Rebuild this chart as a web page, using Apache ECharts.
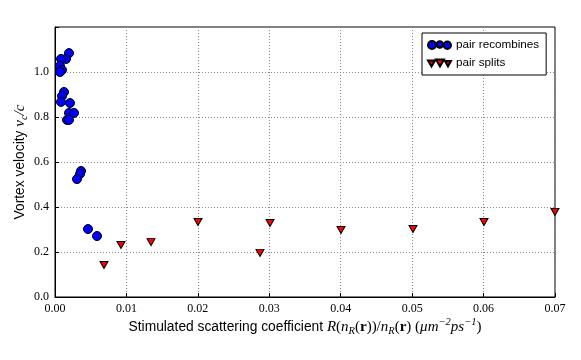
<!DOCTYPE html>
<html><head><meta charset="utf-8">
<script src="https://cdn.jsdelivr.net/npm/echarts@6/dist/echarts.min.js"></script>
<style>html,body{margin:0;padding:0;background:#fff}#c{width:581px;height:360px}</style>
</head><body><div id="c"></div>
<script>
// Data
const recombX = [0.00196,0.00154,0.00084,0.0007,0.00098,0.0007,0.00126,0.00098,0.00084,0.0021,0.00196,0.00266,0.00168,0.00196,0.00364,0.0035,0.00308,0.00462,0.00588];
const recombY = [1.084,1.058,1.058,1.027,1.009,1.0,0.911,0.893,0.867,0.862,0.818,0.818,0.787,0.787,0.56,0.547,0.524,0.302,0.271];
const splitX = [0.00686,0.00924,0.01344,0.02002,0.0287,0.0301,0.04004,0.05012,0.06006,0.07];
const splitY = [0.142,0.231,0.244,0.333,0.196,0.329,0.298,0.302,0.333,0.378];
const xTicks = [0,0.01,0.02,0.03,0.04,0.05,0.06,0.07];
const yTicks = [0,0.2,0.4,0.6,0.8,1.0,1.2];
const seriesNames = ['pair recombines','pair splits'];

const circlesIcon = 'path://M0,4.5A4,4,0,1,0,8,4.5A4,4,0,1,0,0,4.5Z M8.5,4A3.3,3.3,0,1,0,15.1,4A3.3,3.3,0,1,0,8.5,4Z M15.6,4.8A3.7,3.7,0,1,0,23,4.8A3.7,3.7,0,1,0,15.6,4.8Z';
const trisIcon = 'path://M0,2L7,2L3.5,8Z M8,1L16,1L12,8Z M17,2.5L23,2.5L20,8Z';

const serif = 'Liberation Serif';
const sans = 'Liberation Sans';
const rich = {
  t:{fontFamily:sans,fontSize:13.8,color:'#000',lineHeight:20,verticalAlign:'middle'},
  m:{fontFamily:serif,fontStyle:'italic',fontSize:15,color:'#000',lineHeight:20,verticalAlign:'middle'},
  u:{fontFamily:serif,fontSize:15,color:'#000',lineHeight:20,verticalAlign:'middle'},
  b:{fontFamily:serif,fontWeight:'bold',fontSize:15,color:'#000',lineHeight:20,verticalAlign:'middle'},
  sub:{fontFamily:serif,fontStyle:'italic',fontSize:10.5,color:'#000',lineHeight:11,verticalAlign:'bottom'},
  sup:{fontFamily:serif,fontStyle:'italic',fontSize:10.5,color:'#000',lineHeight:11,verticalAlign:'top'}
};

const chart = echarts.init(document.getElementById('c'));
chart.setOption({
  animation:false,
  backgroundColor:'#fff',
  grid:{left:55,right:26,top:27,bottom:63,containLabel:false,outerBoundsMode:'none',show:true,borderColor:'#000',borderWidth:1,backgroundColor:'transparent'},
  xAxis:{
    type:'value',min:xTicks[0],max:xTicks[xTicks.length-1],interval:0.01,
    axisLine:{lineStyle:{color:'#000',width:1}},
    axisTick:{inside:true,length:4,lineStyle:{color:'#000'}},
    axisLabel:{fontFamily:serif,fontSize:12,color:'#000',margin:6,formatter:v=>v.toFixed(2)},
    splitLine:{show:true,lineStyle:{color:'#888',type:[1,2],width:1}},
    name:'{t|Stimulated scattering coefficient }{m|R}{u|(}{m|n}{sub|R}{u|(}{b|r}{u|))/}{m|n}{sub|R}{u|(}{b|r}{u|) (}{m|μm}{sup|−2}{m|ps}{sup|−1}{u|)}',
    nameLocation:'middle',nameGap:20,nameMoveOverlap:false,
    nameTextStyle:{rich:rich}
  },
  yAxis:{
    type:'value',min:yTicks[0],max:yTicks[yTicks.length-1],interval:0.2,
    axisLine:{lineStyle:{color:'#000',width:1}},
    axisTick:{inside:true,length:4,lineStyle:{color:'#000'}},
    axisLabel:{fontFamily:serif,fontSize:12,color:'#000',margin:6,formatter:v=>(Math.abs(v-1.2)<1e-6?'':v.toFixed(1))},
    splitLine:{show:true,lineStyle:{color:'#888',type:[1,2],width:1}},
    name:'{t|Vortex velocity }{m|v}{sub|c}{m|/c}',
    nameLocation:'middle',nameGap:25,nameMoveOverlap:false,
    nameTextStyle:{rich:rich}
  },
  legend:{
    orient:'vertical',left:422,top:33,
    backgroundColor:'#fff',borderColor:'#000',borderWidth:1,
    padding:[6,7,6,5],itemGap:6,itemWidth:23,itemHeight:9,
    textStyle:{fontFamily:sans,fontSize:11.7,color:'#000'},
    data:[{name:seriesNames[0],icon:circlesIcon},{name:seriesNames[1],icon:trisIcon}]
  },
  series:[
    {name:seriesNames[0],type:'scatter',symbol:'circle',symbolSize:9,
     itemStyle:{color:'#0000ff',borderColor:'#000',borderWidth:1,opacity:1},
     data:recombX.map((x,i)=>[x,recombY[i]])},
    {name:seriesNames[1],type:'scatter',symbol:'triangle',symbolRotate:180,symbolSize:[8,7],
     itemStyle:{color:'#ff0000',borderColor:'#000',borderWidth:1,opacity:1},
     data:splitX.map((x,i)=>[x,splitY[i]])}
  ]
});
</script></body></html>
